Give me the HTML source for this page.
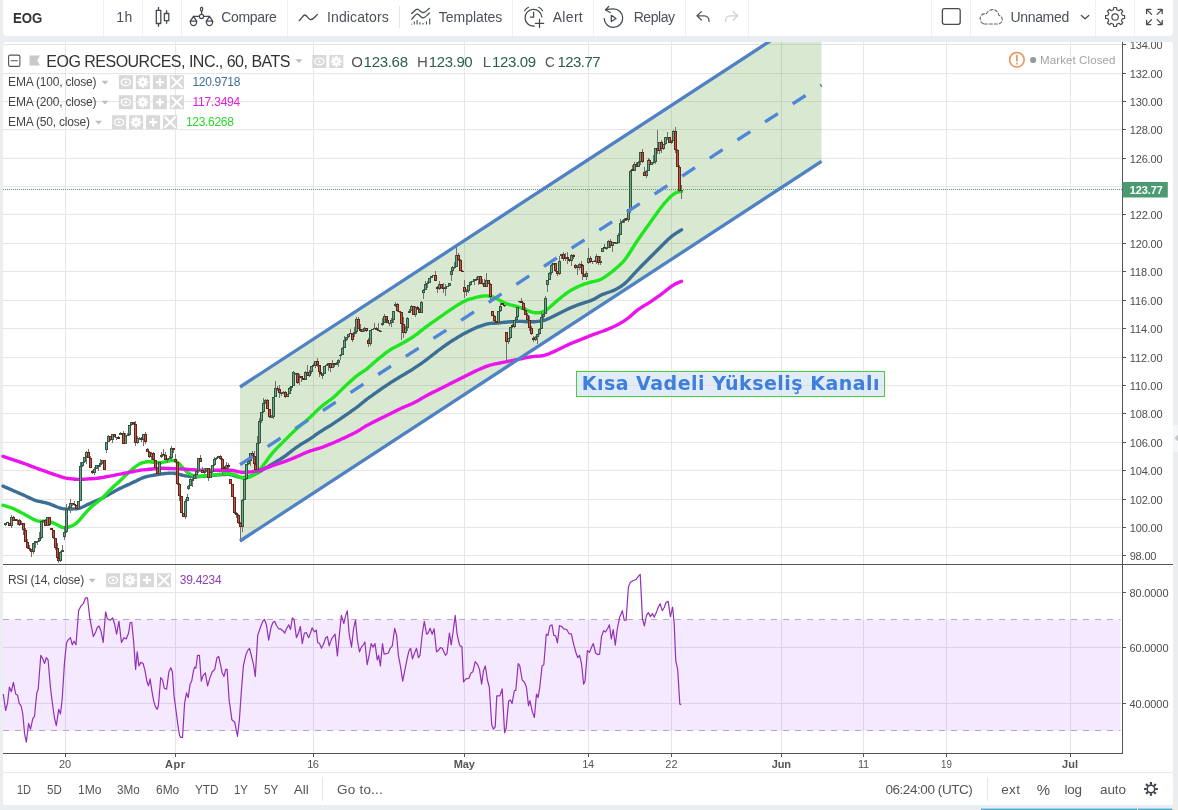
<!DOCTYPE html>
<html lang="tr"><head><meta charset="utf-8"><title>EOG</title>
<style>
html,body{margin:0;padding:0}
body{width:1178px;height:810px;overflow:hidden;background:#eaeef1;position:relative;font-family:"Liberation Sans",sans-serif;}
.t{position:absolute;white-space:nowrap;}
.k{-webkit-text-stroke:0.1px currentColor;}
.tb{position:absolute;left:3px;top:0;width:1170px;height:36px;background:#fff;border-radius:0 0 4px 4px;}
.sep{position:absolute;top:0;width:1px;height:36px;background:#eef0f2;}
.panel{position:absolute;left:3px;top:42px;width:1170px;height:763px;background:#fff;border-radius:3px;}
svg{position:absolute;left:0;top:0;}
.ic{position:absolute;width:14px;height:14px;background:#d9d9d9;}
</style></head><body>
<div class="tb"></div>
<div class="panel"></div>

<div class="sep" style="left:399px;top:6px;height:22px;background:#e1e4e8"></div>
<div class="sep" style="left:103px"></div>
<div class="sep" style="left:142px"></div>
<div class="sep" style="left:181px"></div>
<div class="sep" style="left:287px"></div>
<div class="sep" style="left:512px"></div>
<div class="sep" style="left:593px"></div>
<div class="sep" style="left:685px"></div>
<div class="sep" style="left:748px"></div>
<div class="sep" style="left:931px"></div>
<div class="sep" style="left:970px"></div>
<div class="sep" style="left:1095px"></div>
<div class="sep" style="left:1134px"></div>
<svg width="1178" height="810" viewBox="0 0 1178 810">
<path d="M3 555.5H1122.5 M3 527.5H1122.5 M3 499.5H1122.5 M3 470.5H1122.5 M3 442.5H1122.5 M3 413.5H1122.5 M3 385.5H1122.5 M3 357.5H1122.5 M3 328.5H1122.5 M3 300.5H1122.5 M3 271.5H1122.5 M3 243.5H1122.5 M3 214.5H1122.5 M3 186.5H1122.5 M3 158.5H1122.5 M3 129.5H1122.5 M3 101.5H1122.5 M3 73.5H1122.5 M3 44.5H1122.5 M3 592.5H1122.5 M3 647.5H1122.5 M3 703.5H1122.5 M65.5 42V753 M175.5 42V753 M313.5 42V753 M464.5 42V753 M588.5 42V753 M671.5 42V753 M781.5 42V753 M863.5 42V753 M946.5 42V753 M1070.5 42V753" stroke="#e6e6e6" stroke-width="1" fill="none" shape-rendering="crispEdges"/>
<rect x="3" y="619.5" width="1117.5" height="111.5" fill="#9915ff" fill-opacity="0.095"/>
<path d="M3 619.5H1120.5M3 730.5H1120.5" stroke="#b3adbb" stroke-width="1" stroke-dasharray="6 6" fill="none"/>
<clipPath id="cp"><rect x="3" y="42" width="1119" height="522"/></clipPath>
<g clip-path="url(#cp)">
<polygon points="240,387.0 821.5,7.4 821.5,161.4 240,541.0" fill="#6aa84f" fill-opacity="0.26"/>
</g>
<path d="M3 189.5H1122.5" stroke="#4c9a72" stroke-width="1" stroke-dasharray="1 1" fill="none" shape-rendering="crispEdges"/>
<polyline points="3.0,486.1 4.5,486.8 6.0,487.4 7.5,488.1 9.0,488.7 10.5,489.4 12.0,490.0 13.5,490.7 15.0,491.4 16.5,492.0 18.0,492.7 19.5,493.3 21.0,494.0 22.5,494.6 24.0,495.3 25.5,496.0 27.0,496.7 28.5,497.4 30.0,498.1 31.5,498.8 33.0,499.5 34.5,500.1 36.0,500.6 37.5,501.1 39.0,501.4 40.5,501.7 42.0,502.0 43.5,502.3 45.0,502.6 46.5,503.0 48.0,503.4 49.5,503.9 51.0,504.5 52.5,505.1 54.0,505.7 55.5,506.3 57.0,507.0 58.5,507.5 60.0,508.0 61.5,508.4 63.0,508.7 64.5,508.9 66.0,509.0 67.5,509.1 69.0,509.1 70.5,509.1 72.1,509.0 73.6,508.9 75.1,508.9 76.6,508.7 78.1,508.5 79.6,508.1 81.1,507.6 82.6,507.0 84.1,506.3 85.6,505.6 87.1,504.8 88.6,504.1 90.1,503.5 91.6,502.8 93.1,502.1 94.6,501.5 96.1,500.9 97.6,500.2 99.1,499.6 100.6,498.9 102.1,498.2 103.6,497.4 105.1,496.6 106.6,495.8 108.1,495.0 109.6,494.1 111.1,493.3 112.6,492.4 114.1,491.6 115.6,490.7 117.1,489.9 118.6,489.1 120.1,488.4 121.6,487.7 123.1,487.0 124.6,486.3 126.1,485.6 127.6,484.9 129.1,484.3 130.6,483.6 132.1,482.8 133.6,482.1 135.1,481.4 136.6,480.7 138.1,479.9 139.6,479.2 141.1,478.5 142.6,477.9 144.1,477.3 145.6,476.9 147.1,476.5 148.6,476.2 150.1,475.9 151.6,475.6 153.1,475.3 154.6,475.0 156.1,474.8 157.6,474.5 159.1,474.3 160.6,474.1 162.1,473.9 163.6,473.7 165.1,473.5 166.6,473.4 168.1,473.3 169.6,473.1 171.1,473.1 172.6,473.1 174.1,473.3 175.6,473.5 177.1,473.8 178.6,474.2 180.1,474.6 181.6,475.0 183.1,475.4 184.6,475.7 186.1,475.9 187.6,476.1 189.1,476.2 190.6,476.3 192.1,476.4 193.6,476.5 195.1,476.5 196.6,476.5 198.1,476.5 199.6,476.5 201.1,476.4 202.6,476.3 204.1,476.2 205.6,476.0 207.2,475.9 208.7,475.7 210.2,475.6 211.7,475.4 213.2,475.3 214.7,475.2 216.2,475.0 217.7,474.9 219.2,474.8 220.7,474.7 222.2,474.6 223.7,474.6 225.2,474.5 226.7,474.4 228.2,474.4 229.7,474.5 231.2,474.7 232.7,475.1 234.2,475.6 235.7,476.1 237.2,476.6 238.7,477.1 240.2,477.4 241.7,477.6 243.2,477.6 244.7,477.5 246.2,477.4 247.7,477.1 249.2,476.7 250.7,476.1 252.2,475.5 253.7,474.8 255.2,474.0 256.7,473.2 258.2,472.4 259.7,471.5 261.2,470.7 262.7,469.8 264.2,468.9 265.7,468.0 267.2,467.1 268.7,466.2 270.2,465.3 271.7,464.4 273.2,463.5 274.7,462.6 276.2,461.7 277.7,460.8 279.2,459.9 280.7,459.0 282.2,458.0 283.7,457.0 285.2,456.0 286.7,454.9 288.2,453.7 289.7,452.5 291.2,451.3 292.7,450.1 294.2,449.0 295.7,447.9 297.2,446.8 298.7,445.8 300.2,444.8 301.7,443.9 303.2,443.0 304.7,442.1 306.2,441.2 307.7,440.3 309.2,439.3 310.7,438.3 312.2,437.3 313.7,436.3 315.2,435.2 316.7,434.2 318.2,433.1 319.7,432.1 321.2,431.1 322.7,430.2 324.2,429.2 325.7,428.3 327.2,427.4 328.7,426.5 330.2,425.6 331.7,424.7 333.2,423.7 334.7,422.7 336.2,421.7 337.7,420.7 339.2,419.6 340.7,418.6 342.2,417.5 343.8,416.5 345.3,415.4 346.8,414.4 348.3,413.3 349.8,412.3 351.3,411.2 352.8,410.2 354.3,409.1 355.8,408.0 357.3,406.9 358.8,405.8 360.3,404.5 361.8,403.3 363.3,402.0 364.8,400.8 366.3,399.6 367.8,398.5 369.3,397.4 370.8,396.3 372.3,395.3 373.8,394.2 375.3,393.1 376.8,392.1 378.3,391.0 379.8,390.0 381.3,388.9 382.8,387.9 384.3,386.9 385.8,385.8 387.3,384.8 388.8,383.8 390.3,382.8 391.8,381.9 393.3,381.0 394.8,380.0 396.3,379.1 397.8,378.2 399.3,377.3 400.8,376.4 402.3,375.5 403.8,374.6 405.3,373.7 406.8,372.8 408.3,371.9 409.8,371.0 411.3,370.1 412.8,369.2 414.3,368.2 415.8,367.2 417.3,366.2 418.8,365.2 420.3,364.1 421.8,363.1 423.3,362.0 424.8,360.9 426.3,359.8 427.8,358.7 429.3,357.5 430.8,356.3 432.3,355.2 433.8,354.0 435.3,352.8 436.8,351.6 438.3,350.5 439.8,349.4 441.3,348.3 442.8,347.2 444.3,346.1 445.8,345.0 447.3,344.0 448.8,343.0 450.3,341.9 451.8,341.0 453.3,340.0 454.8,339.1 456.3,338.2 457.8,337.3 459.3,336.4 460.8,335.5 462.3,334.6 463.8,333.8 465.3,333.0 466.8,332.2 468.3,331.4 469.8,330.7 471.3,329.9 472.8,329.2 474.3,328.5 475.8,327.8 477.3,327.2 478.9,326.6 480.4,326.1 481.9,325.6 483.4,325.1 484.9,324.6 486.4,324.2 487.9,323.8 489.4,323.6 490.9,323.4 492.4,323.3 493.9,323.2 495.4,323.1 496.9,323.0 498.4,322.9 499.9,322.7 501.4,322.6 502.9,322.4 504.4,322.3 505.9,322.2 507.4,322.0 508.9,321.9 510.4,321.8 511.9,321.7 513.4,321.6 514.9,321.5 516.4,321.4 517.9,321.4 519.4,321.4 520.9,321.4 522.4,321.4 523.9,321.5 525.4,321.6 526.9,321.7 528.4,321.7 529.9,321.8 531.4,321.8 532.9,321.8 534.4,321.7 535.9,321.6 537.4,321.4 538.9,321.3 540.4,321.1 541.9,320.8 543.4,320.5 544.9,320.1 546.4,319.5 547.9,318.9 549.4,318.2 550.9,317.5 552.4,316.7 553.9,316.0 555.4,315.2 556.9,314.5 558.4,313.7 559.9,313.0 561.4,312.2 562.9,311.5 564.4,310.8 565.9,310.0 567.4,309.3 568.9,308.6 570.4,307.9 571.9,307.3 573.4,306.7 574.9,306.1 576.4,305.5 577.9,304.9 579.4,304.3 580.9,303.8 582.4,303.3 583.9,302.8 585.4,302.3 586.9,301.8 588.4,301.4 589.9,300.9 591.4,300.3 592.9,299.7 594.4,298.9 595.9,298.1 597.4,297.2 598.9,296.3 600.4,295.4 601.9,294.7 603.4,294.1 604.9,293.6 606.4,293.0 607.9,292.5 609.4,292.0 610.9,291.5 612.4,290.9 614.0,290.3 615.5,289.5 617.0,288.8 618.5,287.9 620.0,287.0 621.5,286.0 623.0,284.9 624.5,283.7 626.0,282.4 627.5,280.9 629.0,279.3 630.5,277.7 632.0,276.1 633.5,274.4 635.0,272.8 636.5,271.2 638.0,269.6 639.5,268.1 641.0,266.5 642.5,265.0 644.0,263.5 645.5,262.0 647.0,260.5 648.5,259.0 650.0,257.5 651.5,256.0 653.0,254.5 654.5,253.0 656.0,251.5 657.5,250.0 659.0,248.5 660.5,247.0 662.0,245.5 663.5,244.0 665.0,242.5 666.5,241.0 668.0,239.6 669.5,238.2 671.0,236.9 672.5,235.7 674.0,234.6 675.5,233.6 677.0,232.6 678.5,231.7 680.0,230.8 681.5,229.9" fill="none" stroke="#3b6f96" stroke-width="3.4" stroke-linejoin="round" stroke-linecap="round"/>
<polyline points="3.0,505.3 4.5,505.7 6.0,506.1 7.5,506.6 9.0,507.0 10.5,507.5 12.0,508.1 13.5,508.7 15.0,509.4 16.5,510.2 18.0,510.9 19.5,511.7 21.0,512.5 22.5,513.2 24.0,514.0 25.5,514.9 27.0,515.7 28.5,516.6 30.0,517.4 31.5,518.3 33.0,519.1 34.5,519.8 36.0,520.5 37.5,520.9 39.0,521.2 40.5,521.2 42.0,521.2 43.5,521.1 45.0,521.1 46.5,521.2 48.0,521.4 49.5,521.7 51.0,522.1 52.5,522.7 54.0,523.3 55.5,524.0 57.0,524.8 58.5,525.6 60.0,526.4 61.5,527.1 63.0,527.6 64.5,527.8 66.0,527.7 67.5,527.4 69.0,527.0 70.5,526.4 72.1,525.8 73.6,525.0 75.1,524.1 76.6,522.9 78.1,521.6 79.6,520.0 81.1,518.2 82.6,516.4 84.1,514.6 85.6,512.9 87.1,511.2 88.6,509.6 90.1,508.1 91.6,506.7 93.1,505.4 94.6,504.2 96.1,503.0 97.6,501.9 99.1,500.7 100.6,499.5 102.1,498.2 103.6,496.8 105.1,495.3 106.6,493.7 108.1,492.1 109.6,490.5 111.1,489.0 112.6,487.5 114.1,486.1 115.6,484.8 117.1,483.5 118.6,482.1 120.1,480.8 121.6,479.3 123.1,477.9 124.6,476.4 126.1,474.9 127.6,473.5 129.1,472.1 130.6,470.7 132.1,469.4 133.6,468.2 135.1,467.0 136.6,465.9 138.1,464.9 139.6,464.0 141.1,463.3 142.6,462.7 144.1,462.3 145.6,462.0 147.1,461.8 148.6,461.8 150.1,461.8 151.6,462.0 153.1,462.2 154.6,462.4 156.1,462.6 157.6,462.7 159.1,462.7 160.6,462.7 162.1,462.5 163.6,462.2 165.1,461.9 166.6,461.5 168.1,461.2 169.6,460.8 171.1,460.5 172.6,460.4 174.1,460.6 175.6,461.1 177.1,462.0 178.6,463.3 180.1,464.8 181.6,466.4 183.1,468.1 184.6,469.7 186.1,471.1 187.6,472.4 189.1,473.4 190.6,474.3 192.1,475.0 193.6,475.5 195.1,475.8 196.6,476.0 198.1,476.1 199.6,476.1 201.1,476.0 202.6,476.0 204.1,475.9 205.6,475.8 207.2,475.6 208.7,475.4 210.2,475.3 211.7,475.1 213.2,474.9 214.7,474.7 216.2,474.6 217.7,474.4 219.2,474.3 220.7,474.1 222.2,474.0 223.7,473.8 225.2,473.8 226.7,473.7 228.2,473.7 229.7,473.8 231.2,474.0 232.7,474.2 234.2,474.6 235.7,475.2 237.2,475.9 238.7,476.6 240.2,477.2 241.7,477.6 243.2,477.8 244.7,477.9 246.2,477.7 247.7,477.5 249.2,477.1 250.7,476.5 252.2,475.8 253.7,475.0 255.2,473.9 256.7,472.7 258.2,471.3 259.7,469.7 261.2,468.0 262.7,466.1 264.2,464.0 265.7,462.0 267.2,459.9 268.7,457.8 270.2,455.8 271.7,454.0 273.2,452.2 274.7,450.5 276.2,448.9 277.7,447.4 279.2,445.9 280.7,444.4 282.2,442.9 283.7,441.4 285.2,439.9 286.7,438.4 288.2,436.9 289.7,435.4 291.2,433.9 292.7,432.4 294.2,431.0 295.7,429.5 297.2,428.2 298.7,426.9 300.2,425.6 301.7,424.4 303.2,423.2 304.7,422.0 306.2,420.7 307.7,419.5 309.2,418.1 310.7,416.8 312.2,415.3 313.7,413.9 315.2,412.4 316.7,410.9 318.2,409.4 319.7,408.0 321.2,406.7 322.7,405.5 324.2,404.3 325.7,403.2 327.2,402.1 328.7,401.0 330.2,399.9 331.7,398.8 333.2,397.6 334.7,396.3 336.2,394.9 337.7,393.5 339.2,392.0 340.7,390.6 342.2,389.1 343.8,387.6 345.3,386.1 346.8,384.7 348.3,383.3 349.8,381.9 351.3,380.6 352.8,379.3 354.3,377.9 355.8,376.7 357.3,375.5 358.8,374.4 360.3,373.3 361.8,372.4 363.3,371.4 364.8,370.4 366.3,369.3 367.8,368.1 369.3,366.8 370.8,365.5 372.3,364.1 373.8,362.8 375.3,361.5 376.8,360.2 378.3,358.9 379.8,357.7 381.3,356.5 382.8,355.3 384.3,354.1 385.8,352.9 387.3,351.8 388.8,350.8 390.3,349.8 391.8,348.9 393.3,348.0 394.8,347.3 396.3,346.5 397.8,345.7 399.3,344.9 400.8,344.1 402.3,343.3 403.8,342.5 405.3,341.6 406.8,340.7 408.3,339.8 409.8,338.9 411.3,338.0 412.8,337.0 414.3,336.0 415.8,334.9 417.3,333.8 418.8,332.6 420.3,331.4 421.8,330.2 423.3,329.1 424.8,327.9 426.3,326.7 427.8,325.6 429.3,324.5 430.8,323.5 432.3,322.4 433.8,321.4 435.3,320.3 436.8,319.3 438.3,318.2 439.8,317.2 441.3,316.1 442.8,315.1 444.3,314.0 445.8,312.9 447.3,311.9 448.8,310.8 450.3,309.8 451.8,308.8 453.3,307.8 454.8,306.8 456.3,305.9 457.8,304.9 459.3,304.0 460.8,303.1 462.3,302.2 463.8,301.5 465.3,300.8 466.8,300.2 468.3,299.7 469.8,299.2 471.3,298.7 472.8,298.3 474.3,297.8 475.8,297.4 477.3,297.1 478.9,296.7 480.4,296.5 481.9,296.2 483.4,296.0 484.9,295.9 486.4,295.9 487.9,296.0 489.4,296.2 490.9,296.5 492.4,296.9 493.9,297.4 495.4,298.0 496.9,298.7 498.4,299.5 499.9,300.4 501.4,301.2 502.9,302.1 504.4,302.8 505.9,303.4 507.4,304.0 508.9,304.4 510.4,304.9 511.9,305.2 513.4,305.6 514.9,306.0 516.4,306.4 517.9,306.8 519.4,307.3 520.9,307.8 522.4,308.4 523.9,308.9 525.4,309.5 526.9,310.2 528.4,310.8 529.9,311.4 531.4,311.9 532.9,312.3 534.4,312.7 535.9,312.8 537.4,312.8 538.9,312.7 540.4,312.5 541.9,312.1 543.4,311.6 544.9,310.9 546.4,309.9 547.9,308.8 549.4,307.5 550.9,306.2 552.4,304.9 553.9,303.6 555.4,302.2 556.9,300.9 558.4,299.7 559.9,298.5 561.4,297.2 562.9,296.0 564.4,294.9 565.9,293.7 567.4,292.6 568.9,291.6 570.4,290.6 571.9,289.8 573.4,289.0 574.9,288.2 576.4,287.4 577.9,286.7 579.4,286.0 580.9,285.3 582.4,284.8 583.9,284.2 585.4,283.7 586.9,283.3 588.4,282.8 589.9,282.4 591.4,282.0 592.9,281.6 594.4,281.3 595.9,280.9 597.4,280.6 598.9,280.1 600.4,279.5 601.9,278.8 603.4,277.9 604.9,276.9 606.4,275.8 607.9,274.8 609.4,273.7 610.9,272.5 612.4,271.4 614.0,270.1 615.5,268.8 617.0,267.5 618.5,266.2 620.0,264.8 621.5,263.4 623.0,261.8 624.5,260.1 626.0,258.1 627.5,256.0 629.0,253.7 630.5,251.4 632.0,249.0 633.5,246.6 635.0,244.3 636.5,242.0 638.0,239.7 639.5,237.5 641.0,235.4 642.5,233.3 644.0,231.2 645.5,229.1 647.0,227.0 648.5,224.9 650.0,222.8 651.5,220.7 653.0,218.6 654.5,216.5 656.0,214.4 657.5,212.3 659.0,210.2 660.5,208.2 662.0,206.3 663.5,204.4 665.0,202.7 666.5,201.0 668.0,199.3 669.5,197.8 671.0,196.3 672.5,195.0 674.0,193.9 675.5,192.9 677.0,192.3 678.5,191.8 680.0,191.6 681.5,191.5" fill="none" stroke="#20e620" stroke-width="3.4" stroke-linejoin="round" stroke-linecap="round"/>
<polyline points="3.0,456.4 4.5,456.9 6.0,457.4 7.5,457.8 9.0,458.3 10.5,458.8 12.0,459.3 13.5,459.8 15.0,460.3 16.5,460.8 18.0,461.3 19.5,461.8 21.0,462.3 22.5,462.9 24.0,463.4 25.5,464.0 27.0,464.5 28.5,465.1 30.0,465.7 31.5,466.3 33.0,466.8 34.5,467.4 36.0,468.0 37.5,468.5 39.0,469.1 40.5,469.6 42.0,470.2 43.5,470.7 45.0,471.2 46.5,471.7 48.0,472.3 49.5,472.8 51.0,473.3 52.5,473.8 54.0,474.3 55.5,474.9 57.0,475.4 58.5,475.9 60.0,476.4 61.5,476.9 63.0,477.3 64.5,477.8 66.0,478.1 67.5,478.3 69.0,478.6 70.5,478.7 72.1,478.9 73.6,479.0 75.1,479.2 76.6,479.3 78.1,479.4 79.6,479.4 81.1,479.4 82.6,479.3 84.1,479.2 85.6,479.1 87.1,479.0 88.6,478.9 90.1,478.8 91.6,478.7 93.1,478.6 94.6,478.5 96.1,478.4 97.6,478.2 99.1,478.0 100.6,477.8 102.1,477.6 103.6,477.3 105.1,477.0 106.6,476.7 108.1,476.4 109.6,476.2 111.1,475.9 112.6,475.6 114.1,475.3 115.6,475.0 117.1,474.7 118.6,474.4 120.1,474.1 121.6,473.8 123.1,473.5 124.6,473.2 126.1,472.9 127.6,472.7 129.1,472.4 130.6,472.1 132.1,471.8 133.6,471.5 135.1,471.2 136.6,470.9 138.1,470.6 139.6,470.3 141.1,470.1 142.6,469.9 144.1,469.8 145.6,469.6 147.1,469.5 148.6,469.3 150.1,469.2 151.6,469.0 153.1,468.9 154.6,468.7 156.1,468.6 157.6,468.5 159.1,468.4 160.6,468.3 162.1,468.3 163.6,468.3 165.1,468.4 166.6,468.4 168.1,468.5 169.6,468.5 171.1,468.6 172.6,468.6 174.1,468.6 175.6,468.7 177.1,468.8 178.6,468.8 180.1,468.9 181.6,469.0 183.1,469.1 184.6,469.2 186.1,469.3 187.6,469.4 189.1,469.5 190.6,469.6 192.1,469.7 193.6,469.8 195.1,469.9 196.6,470.0 198.1,470.1 199.6,470.1 201.1,470.2 202.6,470.2 204.1,470.2 205.6,470.2 207.2,470.2 208.7,470.2 210.2,470.2 211.7,470.2 213.2,470.2 214.7,470.2 216.2,470.2 217.7,470.2 219.2,470.2 220.7,470.2 222.2,470.2 223.7,470.2 225.2,470.2 226.7,470.2 228.2,470.2 229.7,470.2 231.2,470.3 232.7,470.5 234.2,470.7 235.7,471.1 237.2,471.5 238.7,471.8 240.2,472.1 241.7,472.3 243.2,472.4 244.7,472.4 246.2,472.3 247.7,472.2 249.2,472.0 250.7,471.9 252.2,471.7 253.7,471.4 255.2,471.2 256.7,470.9 258.2,470.5 259.7,470.2 261.2,469.7 262.7,469.3 264.2,468.7 265.7,468.2 267.2,467.7 268.7,467.1 270.2,466.6 271.7,466.0 273.2,465.5 274.7,465.0 276.2,464.5 277.7,464.0 279.2,463.5 280.7,462.9 282.2,462.4 283.7,461.9 285.2,461.3 286.7,460.8 288.2,460.2 289.7,459.6 291.2,459.0 292.7,458.4 294.2,457.8 295.7,457.1 297.2,456.5 298.7,455.8 300.2,455.2 301.7,454.5 303.2,453.8 304.7,453.1 306.2,452.5 307.7,451.8 309.2,451.3 310.7,450.7 312.2,450.3 313.7,449.8 315.2,449.4 316.7,449.0 318.2,448.5 319.7,448.1 321.2,447.6 322.7,447.1 324.2,446.5 325.7,445.9 327.2,445.3 328.7,444.7 330.2,444.1 331.7,443.5 333.2,442.9 334.7,442.2 336.2,441.5 337.7,440.9 339.2,440.2 340.7,439.5 342.2,438.8 343.8,438.1 345.3,437.4 346.8,436.7 348.3,435.9 349.8,435.2 351.3,434.5 352.8,433.7 354.3,433.0 355.8,432.2 357.3,431.4 358.8,430.5 360.3,429.6 361.8,428.6 363.3,427.6 364.8,426.7 366.3,425.8 367.8,425.0 369.3,424.2 370.8,423.4 372.3,422.6 373.8,421.9 375.3,421.1 376.8,420.4 378.3,419.6 379.8,418.9 381.3,418.1 382.8,417.4 384.3,416.7 385.8,415.9 387.3,415.2 388.8,414.4 390.3,413.7 391.8,412.9 393.3,412.2 394.8,411.4 396.3,410.7 397.8,409.9 399.3,409.2 400.8,408.5 402.3,407.8 403.8,407.1 405.3,406.5 406.8,405.9 408.3,405.3 409.8,404.6 411.3,404.0 412.8,403.3 414.3,402.6 415.8,401.8 417.3,401.0 418.8,400.1 420.3,399.2 421.8,398.3 423.3,397.5 424.8,396.6 426.3,395.7 427.8,394.9 429.3,394.1 430.8,393.4 432.3,392.6 433.8,391.9 435.3,391.2 436.8,390.4 438.3,389.7 439.8,388.9 441.3,388.2 442.8,387.4 444.3,386.7 445.8,385.9 447.3,385.2 448.8,384.4 450.3,383.6 451.8,382.9 453.3,382.1 454.8,381.4 456.3,380.6 457.8,379.9 459.3,379.1 460.8,378.4 462.3,377.6 463.8,376.9 465.3,376.1 466.8,375.4 468.3,374.6 469.8,373.9 471.3,373.1 472.8,372.4 474.3,371.6 475.8,370.9 477.3,370.2 478.9,369.5 480.4,368.9 481.9,368.2 483.4,367.6 484.9,366.9 486.4,366.3 487.9,365.8 489.4,365.3 490.9,364.9 492.4,364.6 493.9,364.2 495.4,363.9 496.9,363.6 498.4,363.3 499.9,363.0 501.4,362.7 502.9,362.4 504.4,362.1 505.9,361.8 507.4,361.5 508.9,361.2 510.4,360.9 511.9,360.6 513.4,360.3 514.9,360.0 516.4,359.7 517.9,359.4 519.4,359.1 520.9,358.8 522.4,358.5 523.9,358.1 525.4,357.8 526.9,357.5 528.4,357.3 529.9,357.0 531.4,356.8 532.9,356.6 534.4,356.4 535.9,356.3 537.4,356.2 538.9,356.1 540.4,356.0 541.9,355.8 543.4,355.6 544.9,355.2 546.4,354.7 547.9,354.2 549.4,353.6 550.9,352.9 552.4,352.3 553.9,351.6 555.4,350.9 556.9,350.2 558.4,349.5 559.9,348.8 561.4,348.0 562.9,347.3 564.4,346.6 565.9,345.8 567.4,345.1 568.9,344.4 570.4,343.7 571.9,343.1 573.4,342.5 574.9,341.9 576.4,341.3 577.9,340.7 579.4,340.1 580.9,339.5 582.4,338.9 583.9,338.3 585.4,337.7 586.9,337.1 588.4,336.5 589.9,335.9 591.4,335.3 592.9,334.7 594.4,334.1 595.9,333.6 597.4,333.1 598.9,332.5 600.4,332.0 601.9,331.5 603.4,331.0 604.9,330.4 606.4,329.8 607.9,329.2 609.4,328.5 610.9,327.9 612.4,327.2 614.0,326.5 615.5,325.8 617.0,325.0 618.5,324.2 620.0,323.4 621.5,322.5 623.0,321.6 624.5,320.6 626.0,319.6 627.5,318.5 629.0,317.4 630.5,316.1 632.0,314.8 633.5,313.4 635.0,312.1 636.5,310.9 638.0,309.7 639.5,308.7 641.0,307.7 642.5,306.7 644.0,305.8 645.5,304.9 647.0,304.0 648.5,303.1 650.0,302.1 651.5,301.1 653.0,300.1 654.5,299.0 656.0,298.0 657.5,296.9 659.0,295.9 660.5,294.8 662.0,293.7 663.5,292.5 665.0,291.4 666.5,290.2 668.0,289.0 669.5,287.8 671.0,286.7 672.5,285.6 674.0,284.7 675.5,283.8 677.0,283.1 678.5,282.5 680.0,281.9 681.5,281.3" fill="none" stroke="#ec14ec" stroke-width="3.4" stroke-linejoin="round" stroke-linecap="round"/>
<g shape-rendering="crispEdges">
<path d="M5 525h1V526h-1zM11 515h1V517h-1zM11 526h1V528h-1zM17 519h1V520h-1zM17 521h1V525h-1zM21 521h1V523h-1zM33 552h1V554h-1zM35 543h1V548h-1zM37 542h1V545h-1zM39 532h1V538h-1zM39 541h1V542h-1zM41 538h1V539h-1zM43 521h1V523h-1zM60 551h1V552h-1zM60 561h1V562h-1zM62 545h1V550h-1zM64 526h1V532h-1zM64 537h1V540h-1zM66 504h1V509h-1zM66 532h1V533h-1zM68 506h1V508h-1zM70 499h1V503h-1zM70 508h1V513h-1zM80 462h1V466h-1zM82 466h1V467h-1zM84 462h1V463h-1zM86 451h1V452h-1zM86 457h1V464h-1zM94 467h1V469h-1zM94 473h1V475h-1zM98 467h1V471h-1zM100 459h1V463h-1zM100 465h1V467h-1zM102 463h1V464h-1zM106 450h1V453h-1zM108 435h1V436h-1zM112 440h1V443h-1zM116 438h1V440h-1zM120 432h1V433h-1zM122 435h1V436h-1zM125 433h1V436h-1zM127 433h1V435h-1zM129 435h1V436h-1zM131 425h1V426h-1zM137 436h1V438h-1zM137 443h1V444h-1zM139 437h1V438h-1zM139 439h1V440h-1zM143 440h1V446h-1zM151 452h1V453h-1zM151 457h1V460h-1zM159 474h1V475h-1zM161 452h1V455h-1zM161 457h1V458h-1zM167 458h1V459h-1zM167 460h1V463h-1zM169 456h1V458h-1zM171 446h1V448h-1zM171 458h1V461h-1zM185 499h1V501h-1zM185 517h1V519h-1zM187 494h1V497h-1zM188 485h1V486h-1zM188 489h1V490h-1zM190 478h1V479h-1zM192 477h1V479h-1zM192 481h1V487h-1zM194 474h1V475h-1zM196 475h1V479h-1zM198 471h1V473h-1zM204 468h1V471h-1zM204 473h1V474h-1zM206 471h1V472h-1zM210 471h1V472h-1zM212 472h1V473h-1zM214 457h1V459h-1zM214 465h1V466h-1zM216 457h1V458h-1zM216 459h1V460h-1zM226 462h1V465h-1zM242 499h1V500h-1zM242 527h1V532h-1zM246 479h1V480h-1zM248 460h1V461h-1zM248 464h1V465h-1zM250 461h1V466h-1zM257 436h1V443h-1zM257 470h1V473h-1zM259 418h1V421h-1zM259 443h1V444h-1zM261 421h1V423h-1zM263 398h1V403h-1zM263 412h1V413h-1zM265 399h1V400h-1zM265 403h1V404h-1zM271 415h1V417h-1zM273 417h1V419h-1zM275 381h1V388h-1zM281 392h1V393h-1zM281 394h1V396h-1zM283 391h1V392h-1zM283 393h1V394h-1zM289 387h1V388h-1zM291 388h1V391h-1zM293 371h1V372h-1zM295 374h1V375h-1zM299 374h1V376h-1zM299 378h1V385h-1zM305 371h1V372h-1zM309 370h1V372h-1zM309 376h1V377h-1zM311 372h1V374h-1zM315 366h1V368h-1zM322 373h1V374h-1zM322 376h1V379h-1zM326 364h1V365h-1zM328 365h1V371h-1zM332 360h1V364h-1zM336 362h1V363h-1zM338 359h1V360h-1zM338 363h1V367h-1zM340 354h1V355h-1zM340 356h1V360h-1zM342 347h1V348h-1zM344 336h1V340h-1zM346 340h1V341h-1zM348 337h1V338h-1zM354 327h1V332h-1zM354 334h1V337h-1zM356 317h1V319h-1zM356 332h1V334h-1zM362 329h1V331h-1zM364 327h1V328h-1zM364 331h1V332h-1zM370 344h1V346h-1zM374 323h1V328h-1zM380 330h1V331h-1zM382 318h1V323h-1zM382 325h1V326h-1zM384 314h1V316h-1zM389 324h1V326h-1zM391 318h1V320h-1zM391 323h1V327h-1zM393 320h1V323h-1zM395 302h1V304h-1zM395 306h1V307h-1zM405 326h1V328h-1zM405 333h1V334h-1zM407 317h1V318h-1zM407 328h1V331h-1zM409 309h1V311h-1zM411 305h1V306h-1zM415 306h1V307h-1zM415 315h1V317h-1zM421 301h1V302h-1zM423 289h1V290h-1zM423 293h1V299h-1zM425 281h1V284h-1zM427 281h1V283h-1zM427 284h1V288h-1zM439 281h1V284h-1zM439 289h1V290h-1zM445 284h1V287h-1zM445 289h1V296h-1zM451 270h1V271h-1zM451 275h1V281h-1zM452 266h1V267h-1zM452 271h1V273h-1zM454 262h1V267h-1zM454 268h1V269h-1zM456 247h1V255h-1zM466 289h1V291h-1zM466 292h1V296h-1zM468 291h1V293h-1zM470 281h1V282h-1zM470 285h1V286h-1zM474 281h1V285h-1zM478 280h1V285h-1zM482 279h1V283h-1zM482 284h1V285h-1zM486 273h1V280h-1zM498 323h1V325h-1zM500 303h1V306h-1zM500 311h1V312h-1zM508 342h1V344h-1zM510 338h1V339h-1zM514 327h1V328h-1zM516 316h1V317h-1zM517 317h1V321h-1zM519 302h1V303h-1zM535 336h1V337h-1zM535 340h1V341h-1zM537 337h1V344h-1zM539 328h1V329h-1zM539 334h1V335h-1zM541 311h1V317h-1zM543 313h1V314h-1zM543 317h1V319h-1zM545 296h1V298h-1zM547 285h1V292h-1zM549 272h1V273h-1zM551 264h1V265h-1zM551 273h1V275h-1zM559 256h1V261h-1zM559 274h1V275h-1zM561 256h1V259h-1zM565 253h1V257h-1zM565 259h1V261h-1zM571 254h1V255h-1zM571 261h1V266h-1zM579 263h1V264h-1zM579 268h1V270h-1zM586 271h1V273h-1zM586 277h1V280h-1zM588 248h1V258h-1zM588 263h1V264h-1zM596 254h1V256h-1zM596 262h1V264h-1zM600 256h1V261h-1zM600 263h1V265h-1zM606 247h1V248h-1zM606 249h1V250h-1zM608 240h1V241h-1zM612 246h1V252h-1zM616 242h1V243h-1zM618 233h1V235h-1zM620 219h1V223h-1zM622 220h1V221h-1zM624 218h1V219h-1zM624 221h1V223h-1zM628 220h1V222h-1zM630 170h1V171h-1zM630 209h1V213h-1zM634 162h1V164h-1zM638 161h1V162h-1zM640 162h1V165h-1zM646 170h1V171h-1zM646 176h1V178h-1zM648 158h1V160h-1zM653 155h1V162h-1zM653 163h1V164h-1zM655 162h1V164h-1zM659 151h1V154h-1zM663 149h1V150h-1zM665 144h1V145h-1zM667 132h1V137h-1zM667 138h1V140h-1zM671 140h1V141h-1zM671 143h1V144h-1zM673 130h1V131h-1zM681 185h1V190h-1zM681 191h1V199h-1z" fill="#6f7173"/>
<path d="M13 516h1V517h-1zM19 519h1V520h-1zM19 525h1V526h-1zM23 530h1V535h-1zM25 528h1V530h-1zM27 539h1V542h-1zM27 548h1V549h-1zM29 545h1V548h-1zM29 549h1V551h-1zM31 552h1V557h-1zM45 519h1V520h-1zM49 525h1V526h-1zM53 538h1V539h-1zM55 548h1V550h-1zM57 543h1V548h-1zM57 558h1V559h-1zM58 553h1V558h-1zM58 561h1V563h-1zM72 504h1V506h-1zM74 501h1V504h-1zM74 505h1V506h-1zM76 509h1V510h-1zM88 449h1V452h-1zM90 456h1V458h-1zM92 470h1V471h-1zM92 473h1V474h-1zM110 440h1V441h-1zM118 436h1V437h-1zM123 431h1V433h-1zM133 424h1V425h-1zM135 421h1V424h-1zM135 443h1V446h-1zM141 437h1V438h-1zM141 440h1V442h-1zM145 432h1V434h-1zM145 442h1V444h-1zM147 448h1V449h-1zM149 451h1V452h-1zM149 457h1V458h-1zM153 452h1V453h-1zM153 460h1V461h-1zM155 468h1V469h-1zM157 474h1V475h-1zM163 449h1V454h-1zM163 455h1V456h-1zM165 452h1V455h-1zM173 450h1V453h-1zM175 454h1V459h-1zM175 462h1V463h-1zM177 484h1V485h-1zM179 483h1V484h-1zM179 496h1V501h-1zM200 455h1V458h-1zM202 467h1V470h-1zM208 478h1V481h-1zM220 455h1V456h-1zM220 459h1V460h-1zM222 458h1V459h-1zM222 469h1V475h-1zM224 466h1V467h-1zM228 463h1V465h-1zM228 467h1V469h-1zM234 513h1V514h-1zM236 512h1V513h-1zM236 515h1V518h-1zM238 514h1V515h-1zM238 523h1V524h-1zM240 522h1V523h-1zM240 527h1V542h-1zM252 451h1V453h-1zM254 451h1V456h-1zM254 464h1V471h-1zM267 399h1V400h-1zM269 417h1V418h-1zM277 386h1V388h-1zM277 389h1V391h-1zM279 385h1V389h-1zM279 393h1V398h-1zM285 391h1V392h-1zM285 397h1V398h-1zM297 383h1V384h-1zM301 378h1V382h-1zM307 365h1V372h-1zM313 363h1V365h-1zM313 366h1V367h-1zM317 358h1V361h-1zM317 365h1V367h-1zM319 372h1V377h-1zM320 371h1V372h-1zM320 374h1V375h-1zM330 368h1V372h-1zM334 365h1V367h-1zM350 329h1V333h-1zM352 333h1V334h-1zM352 340h1V342h-1zM358 317h1V319h-1zM360 324h1V329h-1zM360 331h1V332h-1zM366 331h1V332h-1zM368 338h1V340h-1zM368 344h1V347h-1zM376 327h1V328h-1zM378 323h1V330h-1zM387 319h1V320h-1zM397 303h1V304h-1zM397 311h1V312h-1zM399 312h1V313h-1zM401 324h1V340h-1zM403 317h1V324h-1zM403 333h1V338h-1zM417 306h1V307h-1zM417 309h1V310h-1zM419 308h1V309h-1zM435 271h1V275h-1zM437 286h1V287h-1zM437 289h1V293h-1zM441 288h1V289h-1zM443 283h1V288h-1zM443 289h1V293h-1zM458 253h1V255h-1zM458 260h1V261h-1zM460 259h1V260h-1zM462 270h1V271h-1zM464 280h1V287h-1zM464 292h1V298h-1zM476 277h1V279h-1zM476 280h1V281h-1zM484 279h1V283h-1zM490 283h1V284h-1zM490 297h1V301h-1zM494 315h1V316h-1zM494 321h1V322h-1zM496 323h1V325h-1zM504 306h1V307h-1zM506 342h1V362h-1zM512 324h1V325h-1zM512 327h1V328h-1zM521 298h1V301h-1zM523 302h1V303h-1zM525 307h1V310h-1zM527 313h1V315h-1zM529 316h1V320h-1zM529 328h1V331h-1zM531 326h1V328h-1zM531 334h1V335h-1zM533 336h1V338h-1zM533 340h1V342h-1zM555 271h1V272h-1zM557 274h1V276h-1zM563 252h1V254h-1zM563 259h1V261h-1zM567 252h1V257h-1zM567 259h1V264h-1zM569 261h1V262h-1zM573 254h1V255h-1zM573 257h1V259h-1zM575 264h1V265h-1zM575 268h1V269h-1zM577 265h1V267h-1zM577 268h1V275h-1zM581 261h1V264h-1zM582 264h1V265h-1zM582 274h1V280h-1zM590 256h1V258h-1zM590 262h1V263h-1zM592 262h1V264h-1zM594 260h1V261h-1zM598 263h1V265h-1zM604 244h1V247h-1zM604 248h1V249h-1zM610 239h1V241h-1zM610 246h1V248h-1zM614 243h1V244h-1zM626 220h1V221h-1zM632 165h1V169h-1zM636 162h1V164h-1zM642 149h1V152h-1zM642 162h1V163h-1zM644 167h1V172h-1zM649 159h1V160h-1zM649 165h1V167h-1zM657 130h1V148h-1zM657 151h1V154h-1zM661 140h1V142h-1zM661 149h1V153h-1zM675 127h1V131h-1zM675 150h1V153h-1zM677 149h1V150h-1zM679 165h1V167h-1zM679 191h1V192h-1z" fill="#6f7173"/>
<path d="M4 523h3V525h-3zM10 517h3V526h-3zM16 520h3V521h-3zM20 523h3V525h-3zM32 543h3V552h-3zM34 541h3V543h-3zM36 541h3V542h-3zM38 538h3V541h-3zM40 521h3V538h-3zM42 520h3V521h-3zM46 517h3V526h-3zM59 552h3V561h-3zM61 550h3V552h-3zM63 532h3V537h-3zM65 509h3V532h-3zM67 508h3V509h-3zM69 503h3V508h-3zM77 501h3V509h-3zM79 466h3V501h-3zM81 462h3V466h-3zM83 457h3V462h-3zM85 452h3V457h-3zM93 469h3V473h-3zM95 465h3V469h-3zM97 465h3V467h-3zM99 463h3V465h-3zM101 460h3V463h-3zM105 442h3V450h-3zM107 436h3V442h-3zM111 434h3V440h-3zM115 437h3V438h-3zM119 433h3V435h-3zM121 433h3V435h-3zM124 436h3V444h-3zM126 435h3V436h-3zM128 425h3V435h-3zM130 422h3V425h-3zM136 438h3V443h-3zM138 438h3V439h-3zM142 434h3V440h-3zM150 453h3V457h-3zM158 462h3V474h-3zM160 455h3V457h-3zM166 459h3V460h-3zM168 458h3V459h-3zM170 448h3V458h-3zM184 501h3V517h-3zM186 497h3V501h-3zM187 486h3V489h-3zM189 479h3V486h-3zM191 479h3V481h-3zM193 475h3V479h-3zM195 471h3V475h-3zM197 458h3V471h-3zM203 471h3V473h-3zM205 468h3V471h-3zM209 472h3V478h-3zM211 465h3V472h-3zM213 459h3V465h-3zM215 458h3V459h-3zM217 456h3V458h-3zM225 465h3V469h-3zM241 500h3V527h-3zM243 479h3V500h-3zM245 464h3V479h-3zM247 461h3V464h-3zM249 453h3V461h-3zM256 443h3V470h-3zM258 421h3V443h-3zM260 412h3V421h-3zM262 403h3V412h-3zM264 400h3V403h-3zM270 417h3V418h-3zM272 397h3V417h-3zM274 388h3V397h-3zM280 393h3V394h-3zM282 392h3V393h-3zM286 394h3V397h-3zM288 388h3V394h-3zM290 386h3V388h-3zM292 372h3V386h-3zM294 373h3V374h-3zM298 376h3V378h-3zM304 372h3V380h-3zM308 372h3V376h-3zM310 366h3V372h-3zM314 361h3V366h-3zM321 374h3V376h-3zM323 366h3V374h-3zM325 365h3V366h-3zM327 363h3V365h-3zM331 364h3V368h-3zM335 363h3V365h-3zM337 360h3V363h-3zM339 355h3V356h-3zM341 348h3V355h-3zM343 340h3V348h-3zM345 337h3V340h-3zM347 334h3V337h-3zM353 332h3V334h-3zM355 319h3V332h-3zM361 331h3V332h-3zM363 328h3V331h-3zM369 330h3V344h-3zM371 329h3V330h-3zM373 328h3V329h-3zM379 331h3V332h-3zM381 323h3V325h-3zM383 316h3V323h-3zM388 323h3V324h-3zM390 320h3V323h-3zM392 311h3V320h-3zM394 304h3V306h-3zM404 328h3V333h-3zM406 318h3V328h-3zM408 311h3V313h-3zM410 306h3V311h-3zM414 307h3V315h-3zM420 302h3V313h-3zM422 290h3V293h-3zM424 284h3V290h-3zM426 283h3V284h-3zM428 278h3V283h-3zM430 276h3V278h-3zM432 275h3V276h-3zM438 284h3V289h-3zM444 287h3V289h-3zM446 286h3V287h-3zM448 283h3V286h-3zM450 271h3V275h-3zM451 267h3V271h-3zM453 267h3V268h-3zM455 255h3V267h-3zM465 291h3V292h-3zM467 285h3V291h-3zM469 282h3V285h-3zM471 281h3V282h-3zM473 279h3V281h-3zM477 276h3V280h-3zM481 283h3V284h-3zM485 280h3V287h-3zM497 311h3V323h-3zM499 306h3V311h-3zM507 338h3V342h-3zM509 327h3V338h-3zM513 320h3V327h-3zM515 317h3V320h-3zM516 307h3V317h-3zM518 301h3V302h-3zM534 337h3V340h-3zM536 334h3V337h-3zM538 329h3V334h-3zM540 317h3V329h-3zM542 314h3V317h-3zM544 298h3V314h-3zM546 280h3V285h-3zM548 273h3V280h-3zM550 265h3V273h-3zM552 263h3V265h-3zM558 261h3V274h-3zM560 254h3V256h-3zM564 257h3V259h-3zM570 255h3V261h-3zM578 264h3V268h-3zM585 273h3V277h-3zM587 258h3V263h-3zM595 256h3V262h-3zM599 261h3V263h-3zM601 248h3V252h-3zM605 248h3V249h-3zM607 241h3V248h-3zM611 242h3V246h-3zM615 243h3V244h-3zM617 235h3V243h-3zM619 223h3V235h-3zM621 221h3V223h-3zM623 219h3V221h-3zM627 209h3V220h-3zM629 171h3V209h-3zM633 164h3V171h-3zM637 162h3V167h-3zM639 152h3V162h-3zM645 171h3V176h-3zM647 160h3V171h-3zM650 162h3V165h-3zM652 162h3V163h-3zM654 148h3V162h-3zM658 142h3V151h-3zM662 144h3V149h-3zM664 137h3V144h-3zM666 137h3V138h-3zM670 141h3V143h-3zM672 131h3V141h-3zM680 190h3V191h-3z" fill="#2f5a43"/>
<path d="M6 522h3V523h-3zM8 523h3V526h-3zM12 517h3V521h-3zM14 519h3V521h-3zM18 520h3V525h-3zM22 523h3V530h-3zM24 530h3V542h-3zM26 542h3V548h-3zM28 548h3V549h-3zM30 549h3V552h-3zM44 520h3V526h-3zM48 517h3V525h-3zM50 528h3V530h-3zM52 530h3V538h-3zM54 538h3V548h-3zM56 548h3V558h-3zM57 558h3V561h-3zM71 503h3V504h-3zM73 504h3V505h-3zM75 505h3V509h-3zM87 452h3V458h-3zM89 458h3V468h-3zM91 471h3V473h-3zM103 460h3V470h-3zM109 436h3V440h-3zM113 434h3V437h-3zM117 437h3V439h-3zM122 433h3V444h-3zM132 422h3V424h-3zM134 424h3V443h-3zM140 438h3V440h-3zM144 434h3V442h-3zM146 449h3V452h-3zM148 452h3V457h-3zM152 453h3V460h-3zM154 460h3V468h-3zM156 468h3V474h-3zM162 454h3V455h-3zM164 455h3V460h-3zM172 448h3V450h-3zM174 459h3V462h-3zM176 462h3V484h-3zM178 484h3V496h-3zM180 496h3V513h-3zM182 513h3V517h-3zM199 458h3V462h-3zM201 470h3V473h-3zM207 468h3V478h-3zM219 456h3V459h-3zM221 459h3V469h-3zM223 467h3V469h-3zM227 465h3V467h-3zM229 479h3V484h-3zM231 484h3V497h-3zM233 497h3V513h-3zM235 513h3V515h-3zM237 515h3V523h-3zM239 523h3V527h-3zM251 453h3V456h-3zM253 456h3V464h-3zM254 464h3V470h-3zM266 400h3V409h-3zM268 409h3V417h-3zM276 388h3V389h-3zM278 389h3V393h-3zM284 392h3V397h-3zM296 373h3V383h-3zM300 376h3V378h-3zM302 378h3V380h-3zM306 372h3V376h-3zM312 365h3V366h-3zM316 361h3V365h-3zM318 365h3V372h-3zM319 372h3V374h-3zM329 363h3V368h-3zM333 363h3V365h-3zM349 333h3V334h-3zM351 334h3V340h-3zM357 319h3V329h-3zM359 329h3V331h-3zM365 328h3V331h-3zM367 340h3V344h-3zM375 328h3V330h-3zM377 330h3V331h-3zM385 316h3V320h-3zM386 320h3V323h-3zM396 304h3V311h-3zM398 311h3V312h-3zM400 312h3V324h-3zM402 324h3V333h-3zM412 306h3V315h-3zM416 307h3V309h-3zM418 309h3V313h-3zM434 275h3V281h-3zM436 287h3V289h-3zM440 284h3V288h-3zM442 288h3V289h-3zM457 255h3V260h-3zM459 260h3V271h-3zM461 271h3V272h-3zM463 287h3V292h-3zM475 279h3V280h-3zM479 276h3V284h-3zM483 283h3V287h-3zM487 280h3V284h-3zM489 284h3V297h-3zM491 311h3V316h-3zM493 316h3V321h-3zM495 321h3V323h-3zM501 303h3V305h-3zM503 305h3V306h-3zM505 332h3V342h-3zM511 325h3V327h-3zM520 301h3V303h-3zM522 303h3V310h-3zM524 310h3V315h-3zM526 315h3V320h-3zM528 320h3V328h-3zM530 328h3V334h-3zM532 338h3V340h-3zM554 263h3V271h-3zM556 271h3V274h-3zM562 254h3V259h-3zM566 257h3V259h-3zM568 259h3V261h-3zM572 255h3V257h-3zM574 265h3V268h-3zM576 267h3V268h-3zM580 264h3V265h-3zM581 265h3V274h-3zM583 274h3V277h-3zM589 258h3V262h-3zM591 261h3V262h-3zM593 261h3V262h-3zM597 256h3V263h-3zM603 247h3V248h-3zM609 241h3V246h-3zM613 242h3V243h-3zM625 218h3V220h-3zM631 169h3V171h-3zM635 164h3V167h-3zM641 152h3V162h-3zM643 172h3V176h-3zM648 160h3V165h-3zM656 148h3V151h-3zM660 142h3V149h-3zM668 137h3V143h-3zM674 131h3V150h-3zM676 150h3V167h-3zM678 167h3V191h-3z" fill="#63261a"/>
<path d="M11 518h1V525h-1zM33 544h1V551h-1zM39 539h1V540h-1zM41 522h1V537h-1zM47 518h1V525h-1zM60 553h1V560h-1zM64 533h1V536h-1zM66 510h1V531h-1zM70 504h1V507h-1zM78 502h1V508h-1zM80 467h1V500h-1zM82 463h1V465h-1zM84 458h1V461h-1zM86 453h1V456h-1zM94 470h1V472h-1zM96 466h1V468h-1zM102 461h1V462h-1zM106 443h1V449h-1zM108 437h1V441h-1zM112 435h1V439h-1zM125 437h1V443h-1zM129 426h1V434h-1zM131 423h1V424h-1zM137 439h1V442h-1zM143 435h1V439h-1zM151 454h1V456h-1zM159 463h1V473h-1zM171 449h1V457h-1zM185 502h1V516h-1zM187 498h1V500h-1zM188 487h1V488h-1zM190 480h1V485h-1zM194 476h1V478h-1zM196 472h1V474h-1zM198 459h1V470h-1zM206 469h1V470h-1zM210 473h1V477h-1zM212 466h1V471h-1zM214 460h1V464h-1zM226 466h1V468h-1zM242 501h1V526h-1zM244 480h1V499h-1zM246 465h1V478h-1zM248 462h1V463h-1zM250 454h1V460h-1zM257 444h1V469h-1zM259 422h1V442h-1zM261 413h1V420h-1zM263 404h1V411h-1zM265 401h1V402h-1zM273 398h1V416h-1zM275 389h1V396h-1zM287 395h1V396h-1zM289 389h1V393h-1zM293 373h1V385h-1zM305 373h1V379h-1zM309 373h1V375h-1zM311 367h1V371h-1zM315 362h1V365h-1zM324 367h1V373h-1zM332 365h1V367h-1zM338 361h1V362h-1zM342 349h1V354h-1zM344 341h1V347h-1zM346 338h1V339h-1zM348 335h1V336h-1zM356 320h1V331h-1zM364 329h1V330h-1zM370 331h1V343h-1zM384 317h1V322h-1zM391 321h1V322h-1zM393 312h1V319h-1zM405 329h1V332h-1zM407 319h1V327h-1zM411 307h1V310h-1zM415 308h1V314h-1zM421 303h1V312h-1zM423 291h1V292h-1zM425 285h1V289h-1zM429 279h1V282h-1zM439 285h1V288h-1zM449 284h1V285h-1zM451 272h1V274h-1zM452 268h1V270h-1zM456 256h1V266h-1zM468 286h1V290h-1zM470 283h1V284h-1zM478 277h1V279h-1zM486 281h1V286h-1zM498 312h1V322h-1zM500 307h1V310h-1zM508 339h1V341h-1zM510 328h1V337h-1zM514 321h1V326h-1zM516 318h1V319h-1zM517 308h1V316h-1zM535 338h1V339h-1zM537 335h1V336h-1zM539 330h1V333h-1zM541 318h1V328h-1zM543 315h1V316h-1zM545 299h1V313h-1zM547 281h1V284h-1zM549 274h1V279h-1zM551 266h1V272h-1zM559 262h1V273h-1zM571 256h1V260h-1zM579 265h1V267h-1zM586 274h1V276h-1zM588 259h1V262h-1zM596 257h1V261h-1zM602 249h1V251h-1zM608 242h1V247h-1zM612 243h1V245h-1zM618 236h1V242h-1zM620 224h1V234h-1zM628 210h1V219h-1zM630 172h1V208h-1zM634 165h1V170h-1zM638 163h1V166h-1zM640 153h1V161h-1zM646 172h1V175h-1zM648 161h1V170h-1zM651 163h1V164h-1zM655 149h1V161h-1zM659 143h1V150h-1zM663 145h1V148h-1zM665 138h1V143h-1zM673 132h1V140h-1z" fill="#6aa283"/>
<path d="M9 524h1V525h-1zM13 518h1V520h-1zM19 521h1V524h-1zM23 524h1V529h-1zM25 531h1V541h-1zM27 543h1V547h-1zM31 550h1V551h-1zM45 521h1V525h-1zM49 518h1V524h-1zM53 531h1V537h-1zM55 539h1V547h-1zM57 549h1V557h-1zM58 559h1V560h-1zM76 506h1V508h-1zM88 453h1V457h-1zM90 459h1V467h-1zM104 461h1V469h-1zM110 437h1V439h-1zM114 435h1V436h-1zM123 434h1V443h-1zM135 425h1V442h-1zM145 435h1V441h-1zM147 450h1V451h-1zM149 453h1V456h-1zM153 454h1V459h-1zM155 461h1V467h-1zM157 469h1V473h-1zM165 456h1V459h-1zM175 460h1V461h-1zM177 463h1V483h-1zM179 485h1V495h-1zM181 497h1V512h-1zM183 514h1V516h-1zM200 459h1V461h-1zM202 471h1V472h-1zM208 469h1V477h-1zM220 457h1V458h-1zM222 460h1V468h-1zM230 480h1V483h-1zM232 485h1V496h-1zM234 498h1V512h-1zM238 516h1V522h-1zM240 524h1V526h-1zM252 454h1V455h-1zM254 457h1V463h-1zM255 465h1V469h-1zM267 401h1V408h-1zM269 410h1V416h-1zM279 390h1V392h-1zM285 393h1V396h-1zM297 374h1V382h-1zM307 373h1V375h-1zM317 362h1V364h-1zM319 366h1V371h-1zM330 364h1V367h-1zM352 335h1V339h-1zM358 320h1V328h-1zM366 329h1V330h-1zM368 341h1V343h-1zM386 317h1V319h-1zM387 321h1V322h-1zM397 305h1V310h-1zM401 313h1V323h-1zM403 325h1V332h-1zM413 307h1V314h-1zM419 310h1V312h-1zM435 276h1V280h-1zM441 285h1V287h-1zM458 256h1V259h-1zM460 261h1V270h-1zM464 288h1V291h-1zM480 277h1V283h-1zM484 284h1V286h-1zM488 281h1V283h-1zM490 285h1V296h-1zM492 312h1V315h-1zM494 317h1V320h-1zM506 333h1V341h-1zM523 304h1V309h-1zM525 311h1V314h-1zM527 316h1V319h-1zM529 321h1V327h-1zM531 329h1V333h-1zM555 264h1V270h-1zM557 272h1V273h-1zM563 255h1V258h-1zM575 266h1V267h-1zM582 266h1V273h-1zM584 275h1V276h-1zM590 259h1V261h-1zM598 257h1V262h-1zM610 242h1V245h-1zM636 165h1V166h-1zM642 153h1V161h-1zM644 173h1V175h-1zM649 161h1V164h-1zM657 149h1V150h-1zM661 143h1V148h-1zM669 138h1V142h-1zM675 132h1V149h-1zM677 151h1V166h-1zM679 168h1V190h-1z" fill="#c4563d"/>
</g>
<g clip-path="url(#cp)">
<path d="M240 387.0L790 28.0M240 541.0L821.5 161.4" stroke="#4f81c4" stroke-width="3.3" fill="none"/>
<path d="M240 464.7L821.5 85.1" stroke="#4f86d6" stroke-width="3.3" stroke-dasharray="15.4 17.6" fill="none"/>
</g>
<polyline points="3.3,694.0 5.6,710.5 7.5,703.4 9.4,687.0 11.3,691.7 13.4,682.3 15.7,694.0 17.6,695.2 19.2,703.4 21.1,705.8 22.8,714.0 24.6,733.9 26.3,742.1 28.6,723.4 30.5,729.2 32.8,718.7 34.5,716.3 36.8,692.9 38.2,689.3 40.8,655.3 42.7,658.8 44.6,663.5 46.2,657.7 48.1,660.0 50.4,687.0 52.1,701.1 54.4,717.5 56.3,725.7 58.7,709.3 60.5,714.0 62.2,698.7 64.5,662.4 66.4,643.6 68.0,640.1 70.4,637.7 72.3,644.8 74.1,641.2 76.0,644.8 78.6,610.7 80.9,606.1 83.3,603.7 85.6,597.8 87.5,597.8 89.6,616.6 91.5,627.2 93.4,636.6 95.7,631.9 97.4,627.2 99.0,626.0 100.9,630.7 103.2,642.4 105.6,611.9 107.4,619.0 110.3,620.1 112.6,617.8 114.5,623.7 116.6,634.2 118.9,621.3 121.5,642.4 123.9,637.7 126.2,638.9 128.6,633.0 130.2,622.5 131.8,622.5 133.7,642.4 135.6,669.4 137.2,651.8 138.9,665.9 140.8,662.4 143.1,663.5 145.0,670.6 147.1,682.3 148.5,685.8 150.1,678.8 152.0,691.7 153.7,701.1 155.5,706.9 157.2,709.3 158.4,705.8 160.7,677.6 162.6,680.0 164.2,688.2 166.6,689.3 168.9,671.7 170.8,667.8 172.4,671.7 174.1,696.4 176.0,710.5 177.8,724.5 179.5,735.1 180.6,737.4 182.5,737.4 184.6,703.4 186.5,692.9 188.2,697.6 190.0,684.6 191.7,681.1 193.5,670.6 194.7,667.1 195.9,668.2 197.5,655.3 199.4,655.3 201.3,681.1 203.2,675.3 205.3,672.9 207.6,685.8 210.0,677.6 212.3,671.7 214.7,669.4 217.0,657.7 218.7,656.5 220.5,664.7 222.2,672.9 224.0,676.4 225.7,669.4 227.1,669.4 229.2,701.1 230.0,705.8 231.9,719.8 234.7,722.2 237.5,736.3 239.4,719.8 241.3,691.7 243.4,665.9 245.7,655.3 247.6,650.6 249.5,648.3 251.6,656.5 253.5,664.7 255.3,676.4 257.7,635.4 260.5,627.2 262.8,621.3 264.5,619.4 266.4,624.8 268.7,640.1 271.1,627.2 272.9,622.5 274.6,621.3 276.5,625.5 278.6,628.8 280.4,628.8 282.8,630.7 284.7,633.0 286.8,628.3 288.7,624.8 290.5,629.5 292.4,617.8 294.0,619.4 296.4,637.7 298.5,633.0 300.4,626.5 302.3,643.6 304.4,633.0 306.2,632.6 308.6,637.7 310.5,633.0 312.1,627.9 314.5,631.9 316.3,630.2 317.7,642.4 319.6,643.6 321.5,648.3 323.8,643.6 325.7,637.7 327.4,636.6 329.2,645.9 331.6,638.9 333.2,636.6 335.1,634.2 337.4,656.0 339.3,635.4 341.4,615.4 343.8,623.7 345.7,615.4 347.3,610.7 349.2,634.2 351.5,647.1 353.6,628.3 355.5,620.1 357.4,640.1 359.5,651.8 361.4,647.1 363.3,644.8 364.9,642.0 367.2,664.7 369.1,655.3 371.2,643.6 373.1,647.1 375.0,643.6 377.3,660.0 378.7,655.3 380.4,665.9 382.5,643.6 384.1,654.1 386.5,653.7 388.4,653.0 390.2,648.3 392.3,645.9 394.7,628.3 396.6,635.4 398.4,655.3 400.6,667.1 402.7,681.1 404.8,670.6 407.1,658.8 409.0,650.6 410.6,648.3 412.5,658.8 414.6,653.0 416.5,648.3 418.4,657.7 420.0,655.3 422.4,633.0 424.3,621.3 426.6,634.2 428.2,633.0 430.1,628.3 432.2,634.2 434.1,628.8 436.5,651.8 438.3,650.6 440.4,647.6 442.3,648.3 445.4,655.3 447.0,653.7 449.4,633.0 451.2,644.8 452.9,633.0 455.2,615.4 457.1,634.2 459.2,643.6 460.0,645.9 461.9,646.6 463.5,681.8 465.9,678.8 468.9,678.3 471.0,672.9 472.9,671.7 475.2,661.7 477.6,664.7 479.5,669.4 481.6,684.2 483.5,670.6 485.3,665.9 487.4,680.0 489.3,687.0 491.7,724.5 493.5,729.2 495.2,726.9 496.8,695.9 499.9,695.9 502.2,688.9 504.6,732.7 506.2,728.0 508.6,701.1 510.4,699.9 512.1,703.4 514.4,690.5 515.8,690.5 518.2,663.5 519.8,665.9 522.2,680.0 524.5,682.3 526.4,687.0 528.5,705.8 529.9,700.6 532.3,711.6 534.4,717.5 536.5,694.0 538.1,697.6 539.8,687.0 542.1,665.9 543.8,664.7 546.3,634.2 548.0,635.4 549.9,626.0 552.0,624.8 553.8,635.4 555.7,635.9 557.4,642.9 559.5,625.5 561.6,626.5 563.7,628.8 566.7,629.5 569.1,633.7 571.4,634.2 573.8,644.8 576.1,653.0 577.8,657.7 579.6,655.3 581.5,663.5 583.6,684.2 585.0,681.1 587.4,650.6 589.5,652.3 591.4,647.6 593.3,643.6 595.6,653.0 597.7,654.6 599.6,654.1 601.5,636.6 603.6,630.7 605.5,631.9 607.8,628.3 609.4,624.8 611.3,638.9 613.2,629.5 615.3,645.2 617.2,629.5 619.5,617.8 622.3,610.7 624.2,620.1 626.1,620.1 628.4,587.3 630.1,582.6 632.4,581.0 636.0,579.5 638.3,576.3 640.2,574.4 642.5,619.0 644.4,626.0 646.5,615.4 648.4,612.6 650.5,616.6 652.4,613.6 654.3,617.1 656.6,611.9 658.2,607.2 660.1,603.7 662.2,610.7 664.1,607.7 666.0,602.5 668.1,601.4 670.4,616.6 672.6,607.2 674.2,623.7 675.8,661.2 677.7,669.4 679.8,704.1 681.2,704.6" fill="none" stroke="#9330b5" stroke-width="1.2" stroke-linejoin="round"/>
<path d="M3 564.5H1173M3 753.5H1123.0M1122.5 42V754" stroke="#555" stroke-width="1" fill="none" shape-rendering="crispEdges"/>
<path d="M1122.5 555.5h3.5 M1122.5 527.5h3.5 M1122.5 499.5h3.5 M1122.5 470.5h3.5 M1122.5 442.5h3.5 M1122.5 413.5h3.5 M1122.5 385.5h3.5 M1122.5 357.5h3.5 M1122.5 328.5h3.5 M1122.5 300.5h3.5 M1122.5 271.5h3.5 M1122.5 243.5h3.5 M1122.5 214.5h3.5 M1122.5 186.5h3.5 M1122.5 158.5h3.5 M1122.5 129.5h3.5 M1122.5 101.5h3.5 M1122.5 73.5h3.5 M1122.5 44.5h3.5 M1122.5 592.5h3.5 M1122.5 647.5h3.5 M1122.5 703.5h3.5 M65.5 753v4 M175.5 753v4 M313.5 753v4 M464.5 753v4 M588.5 753v4 M671.5 753v4 M781.5 753v4 M863.5 753v4 M946.5 753v4 M1070.5 753v4" stroke="#555" stroke-width="1" fill="none" shape-rendering="crispEdges"/>
<rect x="1122.5" y="182.0" width="45.3" height="15.5" fill="#4c9a72"/>
</svg>
<span class="t " style="left:1129.7px;top:549.9px;font-size:11px;line-height:13.6px;color:#4d4d4d;letter-spacing:-0.19px;">98.00</span>
<span class="t " style="left:1129.7px;top:521.9px;font-size:11px;line-height:13.6px;color:#4d4d4d;letter-spacing:-0.14px;">100.00</span>
<span class="t " style="left:1129.7px;top:493.9px;font-size:11px;line-height:13.6px;color:#4d4d4d;letter-spacing:-0.14px;">102.00</span>
<span class="t " style="left:1129.7px;top:464.9px;font-size:11px;line-height:13.6px;color:#4d4d4d;letter-spacing:-0.14px;">104.00</span>
<span class="t " style="left:1129.7px;top:436.9px;font-size:11px;line-height:13.6px;color:#4d4d4d;letter-spacing:-0.14px;">106.00</span>
<span class="t " style="left:1129.7px;top:407.9px;font-size:11px;line-height:13.6px;color:#4d4d4d;letter-spacing:-0.14px;">108.00</span>
<span class="t " style="left:1129.7px;top:379.9px;font-size:11px;line-height:13.6px;color:#4d4d4d;letter-spacing:-0.00px;">110.00</span>
<span class="t " style="left:1129.7px;top:351.9px;font-size:11px;line-height:13.6px;color:#4d4d4d;letter-spacing:-0.00px;">112.00</span>
<span class="t " style="left:1129.7px;top:322.9px;font-size:11px;line-height:13.6px;color:#4d4d4d;letter-spacing:-0.00px;">114.00</span>
<span class="t " style="left:1129.7px;top:294.9px;font-size:11px;line-height:13.6px;color:#4d4d4d;letter-spacing:-0.00px;">116.00</span>
<span class="t " style="left:1129.7px;top:265.9px;font-size:11px;line-height:13.6px;color:#4d4d4d;letter-spacing:-0.00px;">118.00</span>
<span class="t " style="left:1129.7px;top:237.9px;font-size:11px;line-height:13.6px;color:#4d4d4d;letter-spacing:-0.14px;">120.00</span>
<span class="t " style="left:1129.7px;top:208.9px;font-size:11px;line-height:13.6px;color:#4d4d4d;letter-spacing:-0.14px;">122.00</span>
<span class="t " style="left:1129.7px;top:152.9px;font-size:11px;line-height:13.6px;color:#4d4d4d;letter-spacing:-0.14px;">126.00</span>
<span class="t " style="left:1129.7px;top:123.9px;font-size:11px;line-height:13.6px;color:#4d4d4d;letter-spacing:-0.14px;">128.00</span>
<span class="t " style="left:1129.7px;top:95.9px;font-size:11px;line-height:13.6px;color:#4d4d4d;letter-spacing:-0.14px;">130.00</span>
<span class="t " style="left:1129.7px;top:67.9px;font-size:11px;line-height:13.6px;color:#4d4d4d;letter-spacing:-0.14px;">132.00</span>
<span class="t " style="left:1129.7px;top:38.9px;font-size:11px;line-height:13.6px;color:#4d4d4d;letter-spacing:-0.14px;clip-path:inset(3.1px 0 0 0);">134.00</span>
<span class="t " style="left:1129.7px;top:183.7px;font-size:11px;line-height:13.6px;color:#fff;letter-spacing:-0.09px;font-weight:bold;">123.77</span>
<span class="t " style="left:1129.4px;top:587.0px;font-size:11px;line-height:13.6px;color:#4d4d4d;letter-spacing:-0.11px;">80.0000</span>
<span class="t " style="left:1129.4px;top:642.0px;font-size:11px;line-height:13.6px;color:#4d4d4d;letter-spacing:-0.11px;">60.0000</span>
<span class="t " style="left:1129.4px;top:697.5px;font-size:11px;line-height:13.6px;color:#4d4d4d;letter-spacing:-0.11px;">40.0000</span>
<span class="t " style="left:12.9px;top:8.5px;font-size:14.5px;line-height:18.0px;color:#333;letter-spacing:0.00px;font-weight:bold;transform:scaleX(0.912);transform-origin:0 50%;">EOG</span>
<span class="t " style="left:116.2px;top:9.0px;font-size:14px;line-height:17.4px;color:#4b505c;letter-spacing:0.41px;">1h</span>
<span class="t " style="left:221.2px;top:9.0px;font-size:14px;line-height:17.4px;color:#4b505c;letter-spacing:-0.33px;">Compare</span>
<span class="t " style="left:327.1px;top:9.0px;font-size:14px;line-height:17.4px;color:#4b505c;letter-spacing:0.10px;">Indicators</span>
<span class="t " style="left:438.8px;top:9.0px;font-size:14px;line-height:17.4px;color:#4b505c;letter-spacing:-0.03px;">Templates</span>
<span class="t " style="left:552.7px;top:9.0px;font-size:14px;line-height:17.4px;color:#4b505c;letter-spacing:0.32px;">Alert</span>
<span class="t " style="left:633.7px;top:9.0px;font-size:14px;line-height:17.4px;color:#4b505c;letter-spacing:-0.43px;">Replay</span>
<span class="t " style="left:1010.5px;top:9.0px;font-size:14px;line-height:17.4px;color:#4b505c;letter-spacing:-0.34px;">Unnamed</span>
<span class="t " style="left:46.3px;top:51.5px;font-size:16px;line-height:19.8px;color:#333;letter-spacing:-0.51px;">EOG RESOURCES, INC., 60, BATS</span>
<span class="t " style="left:351.2px;top:52.5px;font-size:15px;line-height:18.6px;color:#555;letter-spacing:-0.47px;">O</span>
<span class="t " style="left:363.6px;top:52.5px;font-size:15px;line-height:18.6px;color:#2a6048;letter-spacing:-0.30px;">123.68</span>
<span class="t " style="left:416.9px;top:52.5px;font-size:15px;line-height:18.6px;color:#555;letter-spacing:-0.63px;">H</span>
<span class="t " style="left:428.8px;top:52.5px;font-size:15px;line-height:18.6px;color:#2a6048;letter-spacing:-0.40px;">123.90</span>
<span class="t " style="left:482.7px;top:52.5px;font-size:15px;line-height:18.6px;color:#555;letter-spacing:-0.14px;">L</span>
<span class="t " style="left:492.1px;top:52.5px;font-size:15px;line-height:18.6px;color:#2a6048;letter-spacing:-0.38px;">123.09</span>
<span class="t " style="left:545.4px;top:52.5px;font-size:15px;line-height:18.6px;color:#555;letter-spacing:0.00px;transform:scaleX(0.914);transform-origin:0 50%;">C</span>
<span class="t " style="left:557.4px;top:52.5px;font-size:15px;line-height:18.6px;color:#2a6048;letter-spacing:-0.53px;">123.77</span>

<span class="t " style="left:8.1px;top:74.8px;font-size:12px;line-height:14.9px;color:#444;letter-spacing:-0.20px;">EMA (100, close)</span>

<span class="t " style="left:192.5px;top:74.8px;font-size:12px;line-height:14.9px;color:#3f6f96;letter-spacing:-0.31px;">120.9718</span>
<span class="t " style="left:8.1px;top:94.8px;font-size:12px;line-height:14.9px;color:#444;letter-spacing:-0.20px;">EMA (200, close)</span>

<span class="t " style="left:192.5px;top:94.8px;font-size:12px;line-height:14.9px;color:#e01ee0;letter-spacing:-0.20px;">117.3494</span>
<span class="t " style="left:8.1px;top:114.8px;font-size:12px;line-height:14.9px;color:#444;letter-spacing:-0.20px;">EMA (50, close)</span>

<span class="t " style="left:185.9px;top:114.8px;font-size:12px;line-height:14.9px;color:#2bd62b;letter-spacing:-0.29px;">123.6268</span>
<span class="t " style="left:7.9px;top:572.8px;font-size:12px;line-height:14.9px;color:#444;letter-spacing:-0.21px;">RSI (14, close)</span>

<span class="t " style="left:179.7px;top:572.8px;font-size:12px;line-height:14.9px;color:#8e3fb0;letter-spacing:-0.23px;">39.4234</span>
<span class="t " style="left:1040.0px;top:52.7px;font-size:11.5px;line-height:14.3px;color:#a3a3a3;letter-spacing:0.11px;">Market Closed</span>
<span class="t " style="left:58.9px;top:757.5px;font-size:11px;line-height:13.6px;color:#555;letter-spacing:-0.07px;">20</span>
<span class="t " style="left:165.1px;top:757.5px;font-size:11px;line-height:13.6px;color:#555;letter-spacing:0.52px;font-weight:bold;">Apr</span>
<span class="t " style="left:307.2px;top:757.5px;font-size:11px;line-height:13.6px;color:#555;letter-spacing:-0.47px;">16</span>
<span class="t " style="left:453.7px;top:757.5px;font-size:11px;line-height:13.6px;color:#555;letter-spacing:-0.07px;font-weight:bold;">May</span>
<span class="t " style="left:582.3px;top:757.5px;font-size:11px;line-height:13.6px;color:#555;letter-spacing:-0.37px;">14</span>
<span class="t " style="left:665.3px;top:757.5px;font-size:11px;line-height:13.6px;color:#555;letter-spacing:0.03px;">22</span>
<span class="t " style="left:771.7px;top:757.5px;font-size:11px;line-height:13.6px;color:#555;letter-spacing:-0.18px;font-weight:bold;">Jun</span>
<span class="t " style="left:858.0px;top:757.5px;font-size:11px;line-height:13.6px;color:#555;letter-spacing:-0.36px;">11</span>
<span class="t " style="left:941.0px;top:757.5px;font-size:11px;line-height:13.6px;color:#555;letter-spacing:0.00px;transform:scaleX(0.883);transform-origin:0 50%;">19</span>
<span class="t " style="left:1062.0px;top:757.5px;font-size:11px;line-height:13.6px;color:#555;letter-spacing:0.14px;font-weight:bold;">Jul</span>
<div style="position:absolute;left:3px;top:772px;width:1170px;height:1px;background:#e9e9e9"></div>
<div style="position:absolute;left:322px;top:777px;width:1px;height:24px;background:#e6e6e6"></div>
<div style="position:absolute;left:987px;top:777px;width:1px;height:24px;background:#e6e6e6"></div>
<span class="t " style="left:16.9px;top:781.6px;font-size:13.5px;line-height:16.7px;color:#555;letter-spacing:0.00px;transform:scaleX(0.811);transform-origin:0 50%;">1D</span>
<span class="t " style="left:46.7px;top:781.6px;font-size:13.5px;line-height:16.7px;color:#555;letter-spacing:0.00px;transform:scaleX(0.852);transform-origin:0 50%;">5D</span>
<span class="t " style="left:78.0px;top:781.6px;font-size:13.5px;line-height:16.7px;color:#555;letter-spacing:0.00px;transform:scaleX(0.895);transform-origin:0 50%;">1Mo</span>
<span class="t " style="left:117.0px;top:781.6px;font-size:13.5px;line-height:16.7px;color:#555;letter-spacing:0.00px;transform:scaleX(0.864);transform-origin:0 50%;">3Mo</span>
<span class="t " style="left:155.5px;top:781.6px;font-size:13.5px;line-height:16.7px;color:#555;letter-spacing:0.00px;transform:scaleX(0.883);transform-origin:0 50%;">6Mo</span>
<span class="t " style="left:194.5px;top:781.6px;font-size:13.5px;line-height:16.7px;color:#555;letter-spacing:0.00px;transform:scaleX(0.870);transform-origin:0 50%;">YTD</span>
<span class="t " style="left:233.8px;top:781.6px;font-size:13.5px;line-height:16.7px;color:#555;letter-spacing:0.00px;transform:scaleX(0.848);transform-origin:0 50%;">1Y</span>
<span class="t " style="left:264.0px;top:781.6px;font-size:13.5px;line-height:16.7px;color:#555;letter-spacing:0.00px;transform:scaleX(0.866);transform-origin:0 50%;">5Y</span>
<span class="t " style="left:293.8px;top:781.6px;font-size:13.5px;line-height:16.7px;color:#555;letter-spacing:0.03px;">All</span>
<span class="t " style="left:337.0px;top:781.6px;font-size:13.5px;line-height:16.7px;color:#555;letter-spacing:0.22px;">Go to...</span>
<span class="t " style="left:885.4px;top:781.6px;font-size:13.5px;line-height:16.7px;color:#555;letter-spacing:-0.43px;">06:24:00 (UTC)</span>
<span class="t " style="left:1001.2px;top:781.6px;font-size:13.5px;line-height:16.7px;color:#555;letter-spacing:0.36px;">ext</span>
<span class="t " style="left:1036.7px;top:780.7px;font-size:15px;line-height:18.6px;color:#555;letter-spacing:-0.44px;">%</span>
<span class="t " style="left:1064.4px;top:781.6px;font-size:13.5px;line-height:16.7px;color:#555;letter-spacing:-0.14px;">log</span>
<span class="t " style="left:1099.9px;top:781.6px;font-size:13.5px;line-height:16.7px;color:#555;letter-spacing:-0.02px;">auto</span>
<div style="position:absolute;left:576px;top:370.5px;width:309px;height:26px;box-sizing:border-box;border:1px solid #3fd23f;background:rgba(200,220,240,0.55)"></div>
<span class="t " style="left:581.7px;top:372.0px;font-size:19px;line-height:23.6px;color:#3f7fdc;letter-spacing:0.49px;font-weight:bold;font-family:'DejaVu Sans','Liberation Sans',sans-serif;">Kısa Vadeli Yükseliş Kanalı</span>
<svg width="1178" height="810" viewBox="0 0 1178 810" fill="none" stroke-linecap="round" stroke-linejoin="round">
<g stroke="#454a52" stroke-width="1.3" stroke-linecap="butt"><rect x="156.3" y="10.3" width="4.5" height="13.2"/><path d="M158.5 7v3.300M158.5 23.500v3.200"/><rect x="164.400" y="13.500" width="4.400" height="7.200"/><path d="M166.600 10.200v3.300M166.600 20.700v3.100"/></g>
<g stroke="#454a52" stroke-width="1.3"><ellipse cx="201.600" cy="9.200" rx="1.100" ry="2.100"/><path d="M201.600 11.400v3"/><circle cx="201.500" cy="16.500" r="2.100"/><path d="M199.400 16.300H193.500M193.500 16.300L190.400 21.100H196.600zM203.600 16.300H209.500M209.500 16.300L206.400 21.100H212.600z"/><path d="M190.300 21.200a3.200 4.400 0 0 0 6.400 0M206.300 21.200a3.200 4.400 0 0 0 6.400 0"/></g>
<path d="M299.200 20.600c2.200-1.600 3.600-5.600 5.600-5.600s3.600 4.700 6 4.700s4.400-3.400 6.700-5.100" stroke="#454a52" stroke-width="1.300"/>
<g stroke="#454a52" stroke-width="1.250"><path d="M411.600 13.500c2.400-1.600 3.900-4.300 5.700-4.300s3.400 3.500 5.700 3.500s4.200-2.800 6.500-4.400M411.600 19.200c2.400-1.800 3.900-5.200 5.700-5.200s3.400 3.800 5.700 3.800s4.200-3 6.500-4.700"/><path d="M411.600 24.600v-.8M414.300 24.600v-3.200M417.100 24.600v-4.500M419.900 24.600v-2.300M423.100 24.600v-1.500M426.500 24.600v-3M429.700 24.600v-6.100" stroke-width="1.100" stroke-linecap="butt"/></g>
<g stroke="#454a52" stroke-width="1.250"><path d="M541.900 17A8.450 8.450 0 1 0 534.300 26.200"/><path d="M533.600 12.200v5h-3.200"/><path d="M524.700 10.800q1.300-2.300 3.800-3.500M538.700 7.300q2.500 1.200 3.800 3.500"/><path d="M539.500 19.200v8.200M535.300 23.300h8.400"/></g>
<g stroke="#454a52" stroke-width="1.250"><path d="M605.600 9.700C608 9.300 611 8.900 613.450 8.900A9.250 9.250 0 1 1 604.200 18.600"/><path d="M608.800 6.300l-3.300 3.700 4.800 2.500"/><path d="M611.300 15.300v6.300l4.700-3.100z"/></g>
<path d="M701.400 11.600l-4.400 4.200 4.400 4.200M697.200 15.800h7.200a4.600 4.600 0 0 1 4.600 4.600v1" stroke="#555" stroke-width="1.3"/>
<path d="M733.200 11.600l4.400 4.200-4.400 4.200M737.400 15.800h-7.200a4.600 4.600 0 0 0 -4.600 4.600v1" stroke="#cfcfcf" stroke-width="1.3"/>
<rect x="942.400" y="8.700" width="17.800" height="15.600" rx="2" stroke="#4a4a4a" stroke-width="1.3"/>
<path d="M984.400 24h13.800a4.400 4.400 0 0 0 .6-8.700a6.400 6.400 0 0 0 -12.300-1.700a5.200 5.200 0 0 0 -2.100 10.400z" stroke="#666" stroke-width="1.1" stroke-dasharray="3 2"/>
<path d="M1081.400 15.400l3.700 3.400 3.700-3.400" stroke="#4a4a4a" stroke-width="1.3"/>
<path d="M1113.37 9.80L1113.75 7.50L1116.45 7.50L1116.83 9.80L1118.97 10.69L1120.86 9.32L1122.78 11.24L1121.41 13.13L1122.30 15.27L1124.60 15.65L1124.60 18.35L1122.30 18.73L1121.41 20.87L1122.78 22.76L1120.86 24.68L1118.97 23.31L1116.83 24.20L1116.45 26.50L1113.75 26.50L1113.37 24.20L1111.23 23.31L1109.34 24.68L1107.42 22.76L1108.79 20.87L1107.90 18.73L1105.60 18.35L1105.60 15.65L1107.90 15.27L1108.79 13.13L1107.42 11.24L1109.34 9.32L1111.23 10.69z" stroke="#4a4a4a" stroke-width="1.2" fill="none" stroke-linejoin="round"/><circle cx="1115.1" cy="17" r="3.2" stroke="#4a4a4a" stroke-width="1.2" fill="none"/>
<path d="M1146.600 13.600v-4.200h4.200M1146.800 9.600l4.800 4.800M1162.200 13.600v-4.200h-4.200M1162 9.600l-4.800 4.800M1146.600 20.400v4.200h4.200M1146.800 24.400l4.800-4.800M1162.200 20.400v4.200h-4.200M1162 24.400l-4.800-4.800" stroke="#4a4a4a" stroke-width="1.3"/>
<circle cx="1150.950" cy="788.950" r="3.750" stroke="#3c4049" stroke-width="1.500"/>
<path d="M1150.95 784.65L1150.95 782.05M1153.99 785.91L1155.83 784.07M1155.25 788.95L1157.85 788.95M1153.99 791.99L1155.83 793.83M1150.95 793.25L1150.95 795.85M1147.91 791.99L1146.07 793.83M1146.65 788.95L1144.05 788.95M1147.91 785.91L1146.07 784.07" stroke="#3c4049" stroke-width="2.100" stroke-linecap="butt"/>
<circle cx="1016.900" cy="59.800" r="7.300" stroke="#e8935c" stroke-width="1.5"/><path d="M1016.900 55.400v5.600M1016.900 63.400v.6" stroke="#e8935c" stroke-width="1.6"/>
<circle cx="1033.100" cy="60" r="3.100" fill="#9a9a9a"/>
<rect x="312.3" y="55.0" width="14" height="13" fill="#d9d9d9"/>
<ellipse cx="319.3" cy="61.5" rx="4.6" ry="3.4" stroke="#fff" stroke-width="1.3"/><circle cx="319.3" cy="61.5" r="1.3" fill="#fff"/>
<rect x="329.3" y="55.0" width="14" height="13" fill="#d9d9d9"/>
<path d="M335.46 58.00L335.57 56.35L337.03 56.35L337.14 58.00L338.18 58.43L339.42 57.34L340.46 58.38L339.37 59.62L339.80 60.66L341.45 60.77L341.45 62.23L339.80 62.34L339.37 63.38L340.46 64.62L339.42 65.66L338.18 64.57L337.14 65.00L337.03 66.65L335.57 66.65L335.46 65.00L334.42 64.57L333.18 65.66L332.14 64.62L333.23 63.38L332.80 62.34L331.15 62.23L331.15 60.77L332.80 60.66L333.23 59.62L332.14 58.38L333.18 57.34L334.42 58.43z" stroke="#fff" stroke-width="0.8" fill="#fff" stroke-linejoin="round"/><circle cx="336.3" cy="61.5" r="1.6" stroke="#fff" stroke-width="0.8" fill="#d9d9d9"/>
<rect x="118.9" y="75.2" width="14" height="14" fill="#d9d9d9"/>
<ellipse cx="125.9" cy="82.2" rx="4.6" ry="3.4" stroke="#fff" stroke-width="1.3"/><circle cx="125.9" cy="82.2" r="1.3" fill="#fff"/>
<rect x="135.9" y="75.2" width="14" height="14" fill="#d9d9d9"/>
<path d="M142.06 78.70L142.17 77.05L143.63 77.05L143.74 78.70L144.78 79.13L146.02 78.04L147.06 79.08L145.97 80.32L146.40 81.36L148.05 81.47L148.05 82.93L146.40 83.04L145.97 84.08L147.06 85.32L146.02 86.36L144.78 85.27L143.74 85.70L143.63 87.35L142.17 87.35L142.06 85.70L141.02 85.27L139.78 86.36L138.74 85.32L139.83 84.08L139.40 83.04L137.75 82.93L137.75 81.47L139.40 81.36L139.83 80.32L138.74 79.08L139.78 78.04L141.02 79.13z" stroke="#fff" stroke-width="0.8" fill="#fff" stroke-linejoin="round"/><circle cx="142.9" cy="82.2" r="1.6" stroke="#fff" stroke-width="0.8" fill="#d9d9d9"/>
<rect x="152.9" y="75.2" width="14" height="14" fill="#d9d9d9"/>
<path d="M155.9 82.2h8M159.9 78.2v8" stroke="#fff" stroke-width="2.2" stroke-linecap="butt"/>
<rect x="169.9" y="75.2" width="14" height="14" fill="#d9d9d9"/>
<path d="M171.4 76.7l11 11M182.4 76.7l-11 11" stroke="#fff" stroke-width="2" stroke-linecap="butt"/>
<rect x="118.9" y="95.2" width="14" height="14" fill="#d9d9d9"/>
<ellipse cx="125.9" cy="102.2" rx="4.6" ry="3.4" stroke="#fff" stroke-width="1.3"/><circle cx="125.9" cy="102.2" r="1.3" fill="#fff"/>
<rect x="135.9" y="95.2" width="14" height="14" fill="#d9d9d9"/>
<path d="M142.06 98.70L142.17 97.05L143.63 97.05L143.74 98.70L144.78 99.13L146.02 98.04L147.06 99.08L145.97 100.32L146.40 101.36L148.05 101.47L148.05 102.93L146.40 103.04L145.97 104.08L147.06 105.32L146.02 106.36L144.78 105.27L143.74 105.70L143.63 107.35L142.17 107.35L142.06 105.70L141.02 105.27L139.78 106.36L138.74 105.32L139.83 104.08L139.40 103.04L137.75 102.93L137.75 101.47L139.40 101.36L139.83 100.32L138.74 99.08L139.78 98.04L141.02 99.13z" stroke="#fff" stroke-width="0.8" fill="#fff" stroke-linejoin="round"/><circle cx="142.9" cy="102.2" r="1.6" stroke="#fff" stroke-width="0.8" fill="#d9d9d9"/>
<rect x="152.9" y="95.2" width="14" height="14" fill="#d9d9d9"/>
<path d="M155.9 102.2h8M159.9 98.2v8" stroke="#fff" stroke-width="2.2" stroke-linecap="butt"/>
<rect x="169.9" y="95.2" width="14" height="14" fill="#d9d9d9"/>
<path d="M171.4 96.7l11 11M182.4 96.7l-11 11" stroke="#fff" stroke-width="2" stroke-linecap="butt"/>
<rect x="112.1" y="115.2" width="14" height="14" fill="#d9d9d9"/>
<ellipse cx="119.1" cy="122.2" rx="4.6" ry="3.4" stroke="#fff" stroke-width="1.3"/><circle cx="119.1" cy="122.2" r="1.3" fill="#fff"/>
<rect x="129.1" y="115.2" width="14" height="14" fill="#d9d9d9"/>
<path d="M135.26 118.70L135.37 117.05L136.83 117.05L136.94 118.70L137.98 119.13L139.22 118.04L140.26 119.08L139.17 120.32L139.60 121.36L141.25 121.47L141.25 122.93L139.60 123.04L139.17 124.08L140.26 125.32L139.22 126.36L137.98 125.27L136.94 125.70L136.83 127.35L135.37 127.35L135.26 125.70L134.22 125.27L132.98 126.36L131.94 125.32L133.03 124.08L132.60 123.04L130.95 122.93L130.95 121.47L132.60 121.36L133.03 120.32L131.94 119.08L132.98 118.04L134.22 119.13z" stroke="#fff" stroke-width="0.8" fill="#fff" stroke-linejoin="round"/><circle cx="136.1" cy="122.2" r="1.6" stroke="#fff" stroke-width="0.8" fill="#d9d9d9"/>
<rect x="146.1" y="115.2" width="14" height="14" fill="#d9d9d9"/>
<path d="M149.1 122.2h8M153.1 118.2v8" stroke="#fff" stroke-width="2.2" stroke-linecap="butt"/>
<rect x="163.1" y="115.2" width="14" height="14" fill="#d9d9d9"/>
<path d="M164.6 116.7l11 11M175.6 116.7l-11 11" stroke="#fff" stroke-width="2" stroke-linecap="butt"/>
<rect x="106.0" y="573.2" width="14" height="14" fill="#d9d9d9"/>
<ellipse cx="113.0" cy="580.2" rx="4.6" ry="3.4" stroke="#fff" stroke-width="1.3"/><circle cx="113.0" cy="580.2" r="1.3" fill="#fff"/>
<rect x="123.0" y="573.2" width="14" height="14" fill="#d9d9d9"/>
<path d="M129.16 576.70L129.27 575.05L130.73 575.05L130.84 576.70L131.88 577.13L133.12 576.04L134.16 577.08L133.07 578.32L133.50 579.36L135.15 579.47L135.15 580.93L133.50 581.04L133.07 582.08L134.16 583.32L133.12 584.36L131.88 583.27L130.84 583.70L130.73 585.35L129.27 585.35L129.16 583.70L128.12 583.27L126.88 584.36L125.84 583.32L126.93 582.08L126.50 581.04L124.85 580.93L124.85 579.47L126.50 579.36L126.93 578.32L125.84 577.08L126.88 576.04L128.12 577.13z" stroke="#fff" stroke-width="0.8" fill="#fff" stroke-linejoin="round"/><circle cx="130" cy="580.2" r="1.6" stroke="#fff" stroke-width="0.8" fill="#d9d9d9"/>
<rect x="140.0" y="573.2" width="14" height="14" fill="#d9d9d9"/>
<path d="M143.0 580.2h8M147.0 576.2v8" stroke="#fff" stroke-width="2.2" stroke-linecap="butt"/>
<rect x="157.0" y="573.2" width="14" height="14" fill="#d9d9d9"/>
<path d="M158.5 574.7l11 11M169.5 574.7l-11 11" stroke="#fff" stroke-width="2" stroke-linecap="butt"/>
<path d="M295.4 59.2h7l-3.500 3.800z" fill="#bdbdbd"/>
<path d="M101.5 80.8h7l-3.500 3.800z" fill="#bdbdbd"/>
<path d="M101.5 100.8h7l-3.500 3.800z" fill="#bdbdbd"/>
<path d="M95 120.8h7l-3.500 3.800z" fill="#bdbdbd"/>
<path d="M88.7 578.8h7l-3.500 3.800z" fill="#bdbdbd"/>
<rect x="8.600" y="55.100" width="11.300" height="11.300" rx="1.500" stroke="#555" stroke-width="1.1"/><path d="M11.200 60.750h6.200" stroke="#555" stroke-width="1.1"/>
<path d="M29.500 55.500h10.500l-2.800 5 2.800 5h-10.500z" fill="#c8c8c8"/>
<rect x="1173" y="425" width="5" height="27" fill="#f4f6f9"/><path d="M1178 434.500l-3.500 3.500 3.500 3.500z" fill="#c4c4c4"/>
<rect x="981" y="808.300" width="191.200" height="1.700" fill="#4aa6d8"/><rect x="981" y="808" width="191.200" height=".600" fill="#bfe6f5"/><rect x="1137" y="808" width="1" height="2" fill="#eaeef1"/>
</svg>
</body></html>
